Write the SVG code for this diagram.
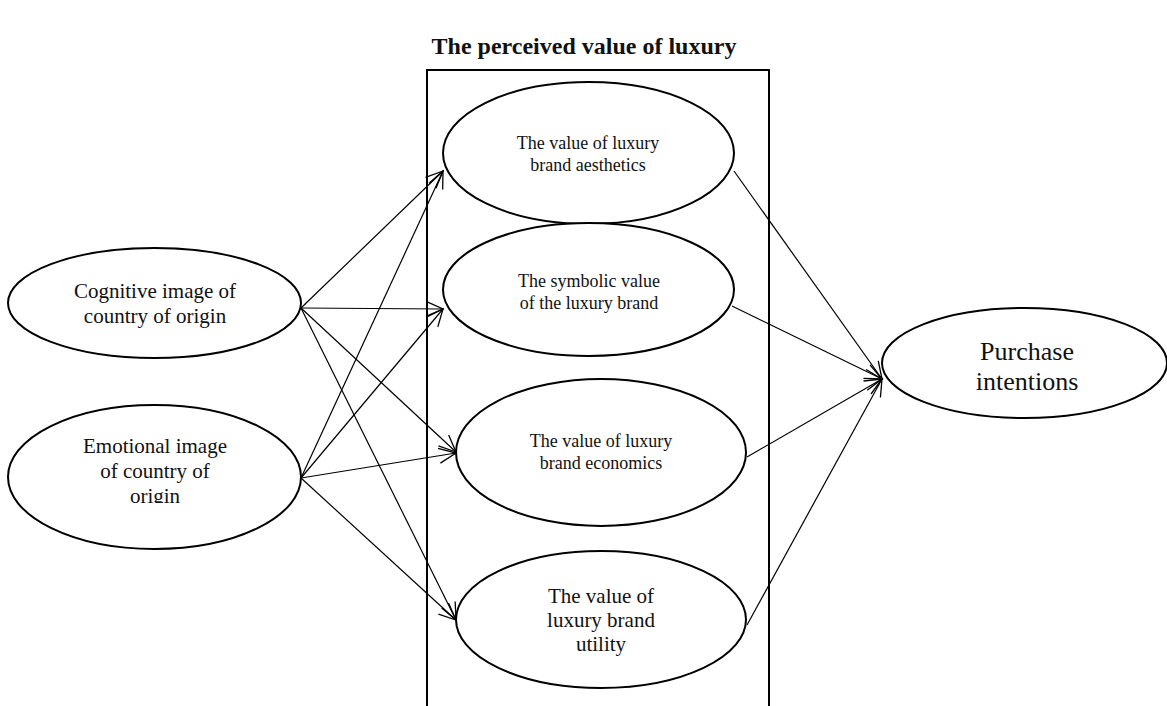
<svg xmlns="http://www.w3.org/2000/svg" width="1167" height="706" viewBox="0 0 1167 706">
<style>
  .node ellipse { fill: #fff; stroke: #000; stroke-width: 2; }
  .t { font-family: "Liberation Serif", "Times New Roman", serif; fill: #111; text-anchor: middle; }
  .conn line { stroke: #000; stroke-width: 1.2; marker-end: url(#arr); }
</style>
<defs>
  <marker id="arr" markerUnits="userSpaceOnUse" markerWidth="20" markerHeight="20" viewBox="0 0 20 20" refX="18" refY="10" orient="auto">
    <path d="M1,2.5 L18,10 L1,17.5" fill="none" stroke="#000" stroke-width="1.3"/>
  </marker>
  <clipPath id="clipEmo"><rect x="0" y="380" width="320" height="123"/></clipPath>
</defs>
<rect width="1167" height="706" fill="#fff"/>
<text class="t" x="584" y="54" font-size="24" font-weight="bold">The perceived value of luxury</text>
<rect id="frame" x="427" y="70" width="342" height="700" fill="none" stroke="#000" stroke-width="2"/>

<g id="aesthetics" class="node">
  <ellipse cx="588.5" cy="153" rx="145.5" ry="71"/>
  <text class="t" x="588" y="149" font-size="18">The value of luxury</text>
  <text class="t" x="588" y="171" font-size="18">brand aesthetics</text>
</g>
<g id="symbolic" class="node">
  <ellipse cx="588.5" cy="289.5" rx="145.5" ry="66.5"/>
  <text class="t" x="589" y="287" font-size="18">The symbolic value</text>
  <text class="t" x="589" y="309" font-size="18">of the luxury brand</text>
</g>
<g id="economics" class="node">
  <ellipse cx="601" cy="452.5" rx="145" ry="73.5"/>
  <text class="t" x="601" y="447" font-size="18">The value of luxury</text>
  <text class="t" x="601" y="469" font-size="18">brand economics</text>
</g>
<g id="utility" class="node">
  <ellipse cx="601" cy="619.5" rx="145" ry="68.5"/>
  <text class="t" x="601" y="603" font-size="21">The value of</text>
  <text class="t" x="601" y="627" font-size="21">luxury brand</text>
  <text class="t" x="601" y="651" font-size="21">utility</text>
</g>
<g id="cognitive" class="node">
  <ellipse cx="154.5" cy="303" rx="146.5" ry="55"/>
  <text class="t" x="155" y="298" font-size="21">Cognitive image of</text>
  <text class="t" x="155" y="323" font-size="21">country of origin</text>
</g>
<g id="emotional" class="node">
  <ellipse cx="154.5" cy="477" rx="146.5" ry="72"/>
  <g clip-path="url(#clipEmo)">
    <text class="t" x="155" y="453" font-size="21">Emotional image</text>
    <text class="t" x="155" y="478" font-size="21">of country of</text>
    <text class="t" x="155" y="503" font-size="21">origin</text>
  </g>
</g>
<g id="purchase" class="node">
  <ellipse cx="1024.5" cy="363" rx="142.5" ry="55"/>
  <text class="t" x="1027" y="360" font-size="26">Purchase</text>
  <text class="t" x="1027" y="390" font-size="26">intentions</text>
</g>

<g id="connectors" class="conn">
  <line x1="301" y1="308" x2="443" y2="171"/>
  <line x1="301" y1="308" x2="443" y2="309"/>
  <line x1="301" y1="308" x2="456" y2="452"/>
  <line x1="301" y1="308" x2="456" y2="620"/>
  <line x1="301" y1="478" x2="443" y2="171"/>
  <line x1="301" y1="478" x2="443" y2="309"/>
  <line x1="301" y1="478" x2="456" y2="453"/>
  <line x1="301" y1="478" x2="456" y2="620"/>
  <line x1="734" y1="171" x2="882" y2="379"/>
  <line x1="732" y1="306" x2="882" y2="379"/>
  <line x1="747" y1="457" x2="882" y2="379"/>
  <line x1="747" y1="625" x2="882" y2="379"/>
</g>
</svg>
